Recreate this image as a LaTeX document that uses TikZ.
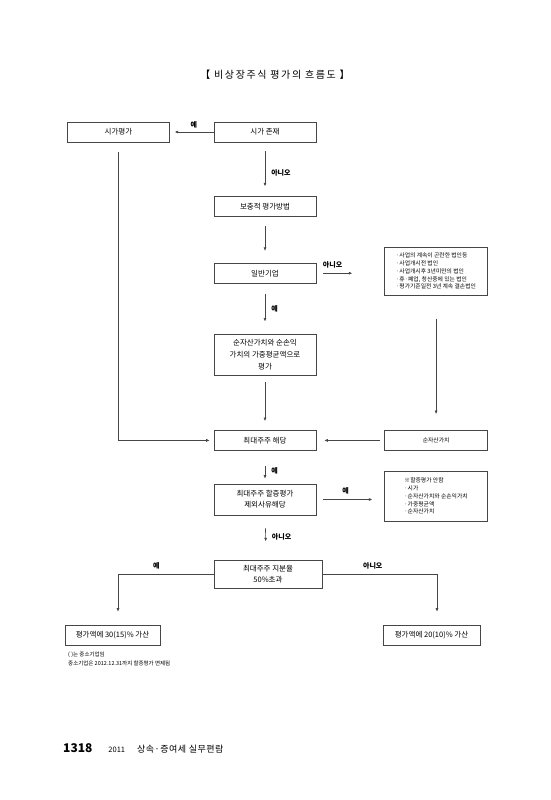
\documentclass[tikz,border=0pt]{standalone}
\usepackage{fontspec}
\setmainfont{Noto Sans CJK KR}
\usepackage{tikz}
\usetikzlibrary{arrows.meta, positioning}
\definecolor{linegray}{RGB}{70,70,70}

\begin{document}
\begin{tikzpicture}[
  x=1pt, y=1pt,
  box/.style={rectangle, draw=linegray, line width=0.6pt, align=center, inner sep=0pt,
              minimum width=102pt, minimum height=20pt, font=\fontsize{7.5}{11}\selectfont},
  listbox/.style={box, align=left, font=\fontsize{5.8}{7.8}\selectfont},
  lbl/.style={font=\fontsize{7}{7}\selectfont\bfseries, inner sep=1pt},
  arrow/.style={-{Latex[length=3.5pt,width=3pt]}, draw=linegray, line width=0.6pt},
  node distance=54pt
]
\useasboundingbox[fill=white] (0,0) rectangle (550,-800);
\node (title) at (275,-75) {\fontsize{10}{10}\selectfont\addfontfeatures{LetterSpace=16}【 비상장주식 평가의 흐름도 】};
\node[box] (exists) at (265,-132) {시가 존재};
\node[box, left=44pt of exists] (market) {시가평가};
\node[box, below=of exists] (supp) {보충적 평가방법};
\node[box, below=46pt of supp] (general) {일반기업};
\node[box, minimum height=41pt, below=50pt of general, font=\fontsize{7.5}{12}\selectfont] (weighted) {순자산가치와 순손익\\가치의 가중평균액으로\\평가};
\node[box, below=55pt of weighted] (major) {최대주주 해당};
\node[box, minimum height=31pt, below=33pt of major] (exempt) {최대주주 할증평가\\제외사유해당};
\node[box, minimum height=28pt, minimum width=108pt, anchor=north west] (over50) at ([yshift=-45pt]exempt.south west) {최대주주 지분율\\50\%초과};
\node[listbox, minimum width=103pt, minimum height=48pt, right=68pt of general, yshift=2pt] (closed) {·사업의 계속이 곤란한 법인등\\·사업개시전 법인\\·사업개시후 3년미만의 법인\\·휴·폐업, 청산중에 있는 법인\\·평가기준일전 3년 계속 결손법인};
\node[box, minimum width=103pt, right=68pt of major] (netasset) {\fontsize{5.8}{7}\selectfont 순자산가치};
\node[listbox, minimum width=103pt, minimum height=50pt, right=68pt of exempt, yshift=3.5pt] (noprem) {※할증평가 안함\\·시가\\·순자산가치와 순손익가치\\·가중평균액\\·순자산가치};
\node[box, minimum width=95pt] (add30) at (112.5,-635) {평가액에 30(15)\% 가산};
\node[box, minimum width=97pt] (add20) at (431.5,-635) {평가액에 20(10)\% 가산};
\node[anchor=north west, align=left, inner sep=0pt, font=\fontsize{5.5}{8.5}\selectfont] (note) at (68,-652) {( )는 중소기업임\\중소기업은 2012.12.31까지 할증평가 면제됨};
\node[anchor=west, inner sep=0pt] (footer) at (63,-748) {{\fontsize{12}{12}\selectfont\bfseries 1318}\hspace{16pt}{\fontsize{7.5}{9}\selectfont 2011}\hspace{12pt}{\fontsize{9}{10}\selectfont\addfontfeatures{LetterSpace=6}상속·증여세 실무편람}};
\draw[arrow, shorten >=5pt] (exists) -- node[lbl, above=3pt, pos=0.45] (yes1) {예} (market);
\draw[arrow, shorten <=10pt, shorten >=4pt] (market) |- (major);
\draw[arrow, shorten <=9pt, shorten >=10pt] (exists) -- node[lbl, right=5pt, pos=0.57] (no1) {아니오} (supp);
\draw[arrow, shorten <=9pt, shorten >=12pt] (supp) -- (general);
\draw[arrow, shorten <=7pt, shorten >=32pt] (general.east) -- node[lbl, above=4pt, pos=0.24] (no2) {아니오} (general.east -| closed.west);
\draw[arrow, shorten <=10pt, shorten >=12pt] (general) -- node[lbl, right=5pt, pos=0.5] (yes2) {예} (weighted);
\draw[arrow, shorten <=7pt, shorten >=9pt] (weighted) -- (major);
\draw[arrow, shorten <=23pt, shorten >=16pt] (closed) -- (netasset);
\draw[arrow, shorten <=4pt, shorten >=8pt] (netasset) -- (major);
\draw[arrow, shorten <=15pt, shorten >=5pt] (major) -- node[lbl, right=5pt, pos=0.6] (yes3) {예} (exempt);
\draw[arrow, shorten <=7pt, shorten >=12pt] (exempt.east) -- node[lbl, above=4pt, pos=0.43] (yes4) {예} (exempt.east -| noprem.west);
\draw[arrow, shorten <=13pt, shorten >=19pt] (exempt) -- node[lbl, right=5pt, pos=0.47] (no3) {아니오} ([xshift=1pt]exempt.south |- over50.north);
\draw[arrow, shorten >=13pt] (over50.west) -| node[lbl, above=4pt, pos=0.3] (yes5) {예} ([xshift=5.5pt]add30.north);
\draw[arrow, shorten >=13pt] (over50.east) -| node[lbl, above=4pt, pos=0.22] (no4) {아니오} ([xshift=5.5pt]add20.north);
\end{tikzpicture}
\end{document}
